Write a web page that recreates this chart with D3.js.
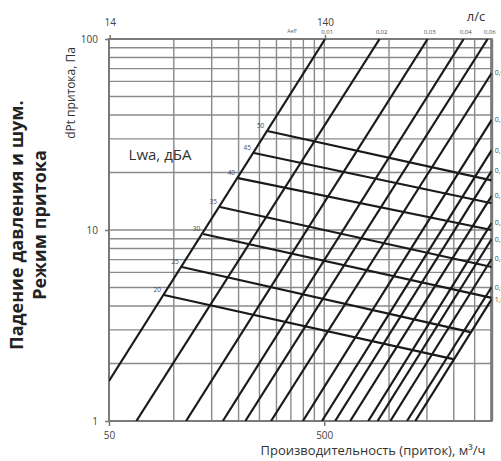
<!DOCTYPE html>
<html>
<head>
<meta charset="utf-8">
<script src="https://cdn.jsdelivr.net/npm/d3@7"></script>
<style>
  body { margin: 0; background: #fff; }
  text { font-family: "Open Sans", sans-serif; }
</style>
</head>
<body>
<svg id="chart" width="501" height="461"></svg>
<script>
var width = 501, height = 461
var plotLeft = 109, plotRight = 491.7, plotTop = 39, plotBottom = 421

// grid + ticks
var qGrid = [50, 100, 150, 200, 250, 300, 350, 400, 450, 500, 1000, 1500, 2000, 2500, 3000]
var dpGrid = [1, 2, 3, 4, 5, 6, 7, 8, 9, 10, 20, 30, 40, 50, 60, 70, 80, 90, 100]
var qTicks = [50, 500]
var dpTicks = [1, 10, 100]
var lsTicks = [14, 140]

// damper (Aeff) curves: label, q1, dp1, q2, dp2   (q in m3/h, dp in Pa)
var aeffLines = [
  ['0,01', 50, 1.62, 505, 100],
  ['0,02', 67, 1, 904, 100],
  ['0,03', 114, 1, 1512, 100],
  ['0,04', 169, 1, 2223, 100],
  ['0,06', 215, 1, 2873, 100],
  ['0,08', 283, 1, 3000, 66.4],
  ['0,1', 398, 1, 3000, 37.7],
  ['0,12', 488, 1, 3000, 26.2],
  ['0,15', 562, 1, 3000, 20.4],
  ['0,2', 660, 1, 3000, 15.1],
  ['0,25', 801, 1, 3000, 10.9],
  ['0,3', 885, 1, 3000, 8.97],
  ['0,4', 1014, 1, 3000, 7.05],
  ['0,6', 1212, 1, 3000, 5.03],
  ['1,0', 1325, 1, 3000, 4.35]
]

// sound power lines, Lwa dB(A)
var lwaLevels = [20, 25, 30, 35, 40, 45, 50]
var lwaStart = [[90, 4.57], [109, 6.4], [137, 9.53], [164, 13.2], [199, 18.7], [236, 25.3], [272, 33.0]]
var lwaEnd = [[1990, 2.11], [2388, 2.92], [3000, 4.41], [3000, 6.4], [3000, 10.0], [3000, 13.8], [3000, 18.2]]

var x = d3.scaleLog().domain([50, 3000]).range([plotLeft, plotRight])
var xLs = d3.scaleLog().domain([50 / 3.6, 3000 / 3.6]).range([plotLeft, plotRight])
var y = d3.scaleLog().domain([1, 100]).range([plotBottom, plotTop])

var svg = d3.select('#chart')

svg.append('defs').append('clipPath').attr('id', 'plot')
  .append('rect')
  .attr('x', plotLeft).attr('y', plotTop)
  .attr('width', plotRight - plotLeft).attr('height', plotBottom - plotTop)

// grid
var grid = svg.append('g').attr('stroke', '#8a8a8a').attr('stroke-width', 1.4)
grid.selectAll('.vg').data(qGrid).enter().append('line')
  .attr('x1', function(d) { return x(d) })
  .attr('x2', function(d) { return x(d) })
  .attr('y1', plotTop).attr('y2', plotBottom)
grid.selectAll('.hg').data(dpGrid).enter().append('line')
  .attr('x1', plotLeft).attr('x2', plotRight)
  .attr('y1', function(d) { return y(d) })
  .attr('y2', function(d) { return y(d) })

// axes
function styleAxis(g) {
  g.select('.domain').remove()
  g.selectAll('.tick line').attr('stroke', '#777').attr('stroke-width', 1.5)
  g.selectAll('.tick text').attr('fill', '#444').style('font-size', '10px')
    .style('font-family', '"Open Sans", sans-serif')
}

svg.append('g').attr('transform', 'translate(0,' + plotBottom + ')')
  .call(d3.axisBottom(x).tickValues(qTicks).tickSize(5).tickPadding(6).tickFormat(d3.format('d')))
  .call(styleAxis)

svg.append('g').attr('transform', 'translate(' + plotLeft + ',0)')
  .call(d3.axisLeft(y).tickValues(dpTicks).tickSize(4).tickPadding(7).tickFormat(d3.format('d')))
  .call(styleAxis)

svg.append('g').attr('transform', 'translate(0,' + plotTop + ')')
  .call(d3.axisTop(xLs).tickValues(lsTicks).tickSize(4).tickPadding(9).tickFormat(d3.format('d')))
  .call(styleAxis)

// frame
svg.append('rect')
  .attr('x', plotLeft).attr('y', plotTop)
  .attr('width', plotRight - plotLeft).attr('height', plotBottom - plotTop)
  .attr('fill', 'none').attr('stroke', '#7a7a7a').attr('stroke-width', 2)
svg.append('line')
  .attr('x1', plotRight).attr('x2', plotRight).attr('y1', plotTop).attr('y2', plotBottom)
  .attr('stroke', '#7a7a7a').attr('stroke-width', 3)

var plot = svg.append('g').attr('clip-path', 'url(#plot)')

// Aeff lines
plot.selectAll('.aeff').data(aeffLines).enter().append('line')
  .attr('x1', function(d) { return x(d[1]) })
  .attr('y1', function(d) { return y(d[2]) })
  .attr('x2', function(d) { return x(d[3]) })
  .attr('y2', function(d) { return y(d[4]) })
  .attr('stroke', '#1a1a1a').attr('stroke-width', 2.2)

// Lwa lines
plot.selectAll('.lwa').data(lwaLevels).enter().append('line')
  .attr('x1', function(d, i) { return x(lwaStart[i][0]) })
  .attr('y1', function(d, i) { return y(lwaStart[i][1]) })
  .attr('x2', function(d, i) { return x(lwaEnd[i][0]) })
  .attr('y2', function(d, i) { return y(lwaEnd[i][1]) })
  .attr('stroke', '#1a1a1a').attr('stroke-width', 2.2)

// Lwa labels
svg.selectAll('.lwaLbl').data(lwaLevels).enter().append('text')
  .attr('x', function(d, i) { return x(lwaStart[i][0]) - 3 })
  .attr('y', function(d, i) { return y(lwaStart[i][1]) - 3 })
  .attr('text-anchor', 'end')
  .attr('fill', '#4a4a4a')
  .style('font-size', '6.5px')
  .text(function(d) { return d })

// Aeff labels on top and right
var topLines = aeffLines.filter(function(d) { return d[4] >= 100 })
var rightLines = aeffLines.filter(function(d) { return d[4] < 100 })

svg.selectAll('.topLbl').data(topLines).enter().append('text')
  .attr('x', function(d) { return x(d[3]) + 2 })
  .attr('y', plotTop - 5)
  .attr('text-anchor', 'middle')
  .attr('fill', '#4a4a4a')
  .style('font-size', '6px')
  .text(function(d) { return d[0] })

svg.append('text')
  .attr('x', 292).attr('y', plotTop - 6)
  .attr('text-anchor', 'middle')
  .attr('fill', '#5a5a5a')
  .style('font-size', '5px')
  .text('Aeff')

// right-hand labels run past the picture edge, as in the original
svg.selectAll('.rightLbl').data(rightLines).enter().append('text')
  .attr('x', plotRight + 3)
  .attr('y', function(d) { return y(d[4]) + 2.5 })
  .attr('fill', '#4a4a4a')
  .style('font-size', '7px')
  .text(function(d) { return d[0] })

// texts
svg.append('text')
  .attr('x', 476).attr('y', 21)
  .attr('text-anchor', 'middle')
  .attr('fill', '#333')
  .style('font-size', '13px')
  .text('л/с')

svg.append('text')
  .attr('x', 160).attr('y', 160)
  .attr('text-anchor', 'middle')
  .attr('fill', '#333')
  .style('font-size', '15px')
  .text('Lwa, дБА')

svg.append('text')
  .attr('x', 373).attr('y', 455)
  .attr('text-anchor', 'middle')
  .attr('fill', '#333')
  .style('font-size', '13px')
  .text('Производительность (приток), м³/ч')

svg.append('text')
  .attr('transform', 'translate(75,93) rotate(-90)')
  .attr('text-anchor', 'middle')
  .attr('fill', '#333')
  .style('font-size', '12px')
  .text('dPt притока, Па')

svg.append('text')
  .attr('transform', 'translate(22.5,225) rotate(-90)')
  .attr('text-anchor', 'middle')
  .attr('fill', '#222')
  .style('font-size', '18px')
  .style('font-weight', 'bold')
  .text('Падение давления и шум.')

svg.append('text')
  .attr('transform', 'translate(46,225) rotate(-90)')
  .attr('text-anchor', 'middle')
  .attr('fill', '#222')
  .style('font-size', '18px')
  .style('font-weight', 'bold')
  .text('Режим притока')
</script>
</body>
</html>
